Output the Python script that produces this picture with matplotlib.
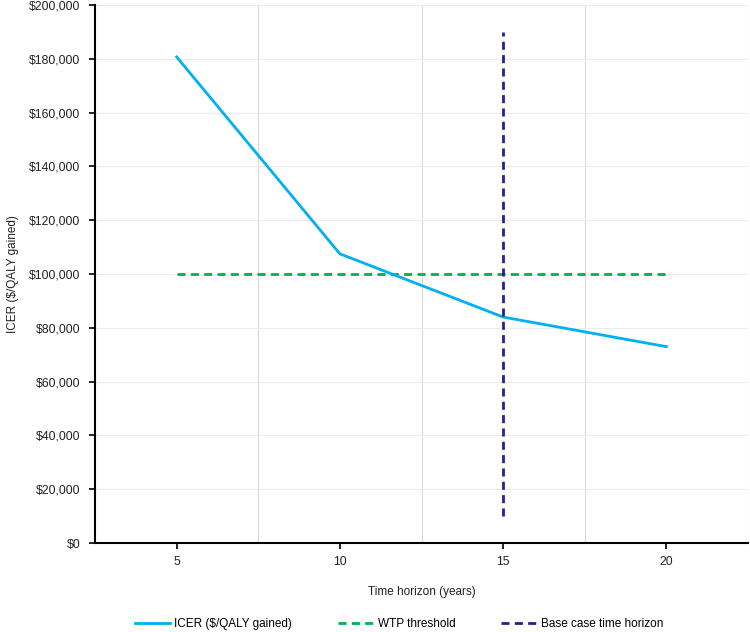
import matplotlib
matplotlib.use("Agg")
import matplotlib.pyplot as plt
from matplotlib.ticker import FuncFormatter

plt.rcParams['font.family'] = ['Liberation Sans', 'DejaVu Sans']

years = [5, 10, 15, 20]
icer = [180700, 107500, 84000, 73000]
wtp_x = [5, 20]
wtp_y = [100000, 100000]
base_x = [15, 15]
base_y = [10000, 190000]
xticks = [5, 10, 15, 20]
xgrid = [7.5, 12.5, 17.5, 22.5]
yticks = list(range(0, 200001, 20000))

fig = plt.figure(figsize=(7.5, 6.32), dpi=100)
ax = fig.add_axes([0.1267, 0.1408, 0.8706, 0.8513])

for g in xgrid:
    ax.axvline(g, color='#d9d9d9', lw=0.8, zorder=0)
for t in yticks[1:]:
    ax.axhline(t, color='#ececec', lw=0.8, zorder=0)

ax.plot(years, icer, color='#00b0f0', lw=2.0, label='ICER ($/QALY gained)', zorder=3)
ax.plot(wtp_x, wtp_y, color='#00b050', lw=2.0, linestyle=(0, (2.9, 1.9)), label='WTP threshold', zorder=2)
ax.plot(base_x, base_y, color='#22228f', lw=2.0, linestyle=(0, (2.9, 1.9)), label='Base case time horizon', zorder=4)

ax.set_xlim(2.5, 22.5)
ax.set_ylim(0, 200000)
ax.set_xticks(xticks)
ax.set_yticks(yticks)
ax.yaxis.set_major_formatter(FuncFormatter(lambda v, p: '${:,.0f}'.format(v)))
ax.tick_params(axis='both', labelsize=8.8, length=4, width=1.2, color='black', labelcolor='#222222')
ax.tick_params(axis='x', pad=5)
ax.tick_params(axis='y', pad=6.5)

for s in ['top', 'right']:
    ax.spines[s].set_visible(False)
for s in ['left', 'bottom']:
    ax.spines[s].set_linewidth(1.5)

ax.set_xlabel('Time horizon (years)', fontsize=8.5, labelpad=13, color='#222222')
ax.set_ylabel('ICER ($/QALY gained)', fontsize=8.5, labelpad=7.5, color='#222222')

fig.legend(loc='center', bbox_to_anchor=(0.532, 0.013), ncol=3, frameon=False,
           fontsize=8.5, handlelength=2.95, columnspacing=3.9, handletextpad=0.4)

fig.savefig('out.png', dpi=100)
